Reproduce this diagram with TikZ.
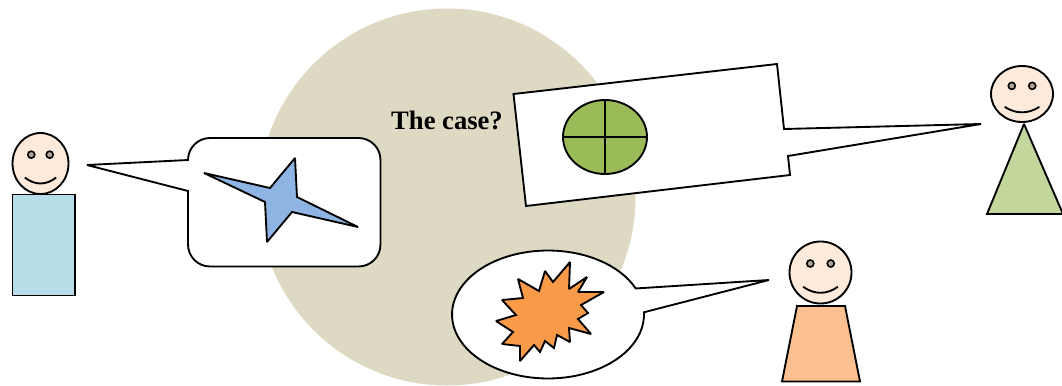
\documentclass[tikz,border=0pt]{standalone}
\usepackage{fontspec}
\setmainfont{Liberation Serif}
\definecolor{discbg}{HTML}{DDD9C3}
\definecolor{skin}{HTML}{FDEADA}
\definecolor{bodyblue}{HTML}{B7DDE8}
\definecolor{bodyorange}{HTML}{FAC090}
\definecolor{bodygreen}{HTML}{C3D69B}
\definecolor{starblue}{HTML}{8EB4E3}
\definecolor{burstorange}{HTML}{F99A48}
\definecolor{ballgreen}{HTML}{9BBB59}
\begin{document}
\begin{tikzpicture}[
  x=0.75pt, y=-0.75pt, line width=1.4pt, line join=miter, miter limit=2,
  outline/.style={draw=black},
  bubble/.style={draw=black, fill=white},
  eye/.style={draw=black, line width=1.2pt, fill=skin!70!black},
  lab/.style={font=\fontsize{19.95}{22}\selectfont\bfseries, inner sep=0pt}
]
\useasboundingbox (0,0) rectangle (1062,385);
\fill[discbg] (447,197) ellipse [x radius=188.5, y radius=188.5];
\node[lab] (casetext) at (447,120) {The case?};

% speech bubbles
\draw[bubble] (87,165) -- (188,160) [rounded corners=16.5pt] -- (188,138) -- (380.5,138) -- (380.5,266.5) -- (188,266.5) [sharp corners] -- (188,191) -- cycle;
\draw[bubble] (513.5,94) -- (777,64) -- (784,129) -- (981,124) -- (788,156) -- (790,175) -- (526,206) -- cycle;
\draw[bubble] plot[domain=24:362, samples=80] ({548+96*cos(\x)},{314.5-64*sin(\x)}) -- (769,280) -- cycle;

% bubble contents
\draw[outline, fill=starblue] (204,173) -- (270,188) -- (295,158) -- (297,197) -- (358,227) -- (292,212) -- (267,242) -- (265,202) -- cycle;
\draw[outline, fill=ballgreen] (605,137) ellipse [x radius=42, y radius=37];
\draw[outline] (563,137) -- (647,137);
\draw[outline] (605,100) -- (605,174);
\draw[outline, fill=burstorange] (570,262) -- (569,289) -- (587,277) -- (578,292) -- (604,292) -- (581,305) -- (588,313) -- (578,319) -- (591,334) -- (569,328) -- (570,342) -- (557,335) -- (554,348) -- (545,341) -- (540,352) -- (534,345) -- (520,361) -- (520,346) -- (502,344) -- (513,332) -- (496,321) -- (516,315) -- (502,300) -- (523,298) -- (518,279) -- (539,291) -- (545,271) -- (553,282) -- cycle;

% bodies
\draw[outline, fill=bodyblue] (12.5,194.5) rectangle (75,295.5);
\draw[outline, fill=bodyorange] (797,306) -- (845,306) -- (860,381.5) -- (782,381.5) -- cycle;
\draw[outline, fill=bodygreen] (1024,124) -- (1063,214) -- (987,214) -- cycle;

% heads
\foreach \cx/\cy/\rx/\ry in {40.5/163.5/28/30.5, 820.5/272.5/31/31, 1022/94/31/28} {
  \draw[outline, fill=skin] (\cx,\cy) ellipse [x radius=\rx, y radius=\ry];
  \draw[eye] (\cx-0.33*\rx,\cy-0.29*\ry) circle [radius=3.5];
  \draw[eye] (\cx+0.33*\rx,\cy-0.29*\ry) circle [radius=3.5];
  \draw[outline] (\cx-0.56*\rx,\cy+0.46*\ry) .. controls (\cx-0.2*\rx,\cy+0.72*\ry) and (\cx+0.2*\rx,\cy+0.72*\ry) .. (\cx+0.56*\rx,\cy+0.46*\ry);
}
\end{tikzpicture}
\end{document}
